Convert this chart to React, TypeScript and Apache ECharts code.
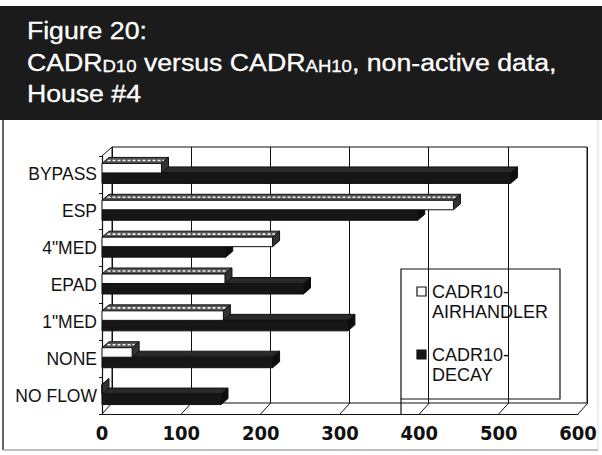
import React, { useEffect, useRef } from "react";
import * as echarts from "echarts";

const categories = ['BYPASS', 'ESP', '4"MED', 'EPAD', '1"MED', 'NONE', 'NO FLOW'];
const airhandlerValues = [75, 443, 215, 155, 153, 38, 0];
const decayValues = [515, 398, 156, 254, 310, 215, 150];
const xTicks = [0, 100, 200, 300, 400, 500, 600];
const seriesNames = ["CADR10-AIRHANDLER", "CADR10-DECAY"];

const FONT = "'Liberation Sans', Arial, Helvetica, sans-serif";
const NARROW = "'Liberation Sans Narrow', 'Arial Narrow', 'DejaVu Sans Condensed', sans-serif";

function barRenderer(topOff: number, botOff: number, frontFill: string, topFill: string, sideFill: string, hatch: boolean) {
  return (params: any, api: any) => {
    const cat = api.value(0);
    const v = api.value(1);
    const p0 = api.coord([0, cat]);
    const p1 = api.coord([v, cat]);
    const x0 = p0[0];
    const x1 = p1[0];
    const y0 = p0[1] + topOff;
    const y1 = p0[1] + botOff;
    const dx = 7;
    const dy = 6;
    const stroke = { stroke: "#111", lineWidth: 1 };
    const children: any[] = [
      {
        type: "polygon",
        shape: { points: [[x0, y0], [x1, y0], [x1 + dx, y0 - dy], [x0 + dx, y0 - dy]] },
        style: { fill: topFill, ...stroke },
      },
    ];
    if (hatch && x1 - x0 > 4) {
      children.push({
        type: "line",
        shape: { x1: x0 + dx / 2 + 2, y1: y0 - dy / 2, x2: x1 + dx / 2 - 1, y2: y0 - dy / 2 },
        style: { stroke: "#f2f2f2", lineWidth: 1.6, lineDash: [3, 2] },
      });
    }
    children.push(
      {
        type: "polygon",
        shape: { points: [[x1, y0], [x1, y1], [x1 + dx, y1 - dy], [x1 + dx, y0 - dy]] },
        style: { fill: sideFill, ...stroke },
      },
      {
        type: "rect",
        shape: { x: x0, y: y0, width: Math.max(0, x1 - x0), height: y1 - y0 },
        style: { fill: frontFill, ...stroke },
      }
    );
    return { type: "group", children };
  };
}

export default function App() {
  const ref = useRef<HTMLDivElement>(null);
  useEffect(() => {
    if (!ref.current) return;
    const chart = echarts.init(ref.current, undefined, { renderer: "svg" });
    const titleStyle = { fill: "#fff", stroke: "#fff", lineWidth: 0.3 };
    const option: any = {
      animation: false,
      backgroundColor: "#fff",
      grid: [
        { left: 112, right: 15, top: 147, bottom: 52, show: true, borderColor: "#111", borderWidth: 1, backgroundColor: "transparent" },
        { left: 102, right: 24, top: 156, bottom: 41 },
      ],
      xAxis: [
        {
          gridIndex: 0, type: "value", min: 0, max: 600, interval: 100,
          axisLine: { show: false }, axisTick: { show: false }, axisLabel: { show: false },
          splitLine: { show: true, lineStyle: { color: "#111", width: 1 } },
        },
        {
          gridIndex: 1, type: "value", min: 0, max: 600, interval: 100,
          axisLine: { show: true, onZero: false, lineStyle: { color: "#111", width: 1 } },
          axisTick: { show: false },
          splitLine: { show: false },
          axisLabel: { show: true, margin: 9, fontFamily: NARROW, fontWeight: "bold", fontSize: 20, color: "#111" },
        },
      ],
      yAxis: [
        { gridIndex: 0, type: "category", data: categories, inverse: true, show: false },
        {
          gridIndex: 1, type: "category", data: categories, inverse: true,
          axisLine: { show: true, lineStyle: { color: "#111", width: 1.2 } },
          axisTick: { show: true, length: 3, lineStyle: { color: "#111" } },
          axisLabel: { margin: 5, fontFamily: FONT, fontSize: 17.5, color: "#111" },
          splitLine: { show: false },
        },
      ],
      series: [
        {
          type: "custom",
          name: "floor",
          xAxisIndex: 1, yAxisIndex: 1,
          z: 1,
          silent: true,
          data: xTicks.map((t) => [t, categories.length - 1]),
          encode: { x: 0, y: 1 },
          renderItem: (params: any, api: any) => {
            const p = api.coord([api.value(0), api.value(1)]);
            const band = api.size([0, 1])[1];
            const y = p[1] + band / 2;
            return {
              type: "line",
              shape: { x1: p[0], y1: y, x2: p[0] + 10, y2: y - 11 },
              style: { stroke: "#111", lineWidth: 1 },
            };
          },
        },
        {
          type: "custom",
          name: seriesNames[1],
          xAxisIndex: 1, yAxisIndex: 1,
          z: 2,
          data: decayValues.map((v, i) => [i, v]),
          encode: { x: 1, y: 0 },
          renderItem: barRenderer(-1.5, 9, "#161616", "#2a2a2a", "#0d0d0d", false),
        },
        {
          type: "custom",
          name: seriesNames[0],
          xAxisIndex: 1, yAxisIndex: 1,
          z: 3,
          data: airhandlerValues.map((v, i) => [i, v]),
          encode: { x: 1, y: 0 },
          renderItem: barRenderer(-11, -1.5, "#ffffff", "#555555", "#333333", true),
        },
      ],
      graphic: [
        { type: "rect", z: 0, shape: { x: 0, y: 6, width: 602, height: 114 }, style: { fill: "#1b1b1b" } },
        { type: "line", shape: { x1: 3, y1: 120, x2: 3, y2: 450 }, style: { stroke: "#333", lineWidth: 1.5 } },
        { type: "line", shape: { x1: 3, y1: 450, x2: 598, y2: 450 }, style: { stroke: "#aaa", lineWidth: 1.5 } },
        { type: "line", shape: { x1: 598, y1: 120, x2: 598, y2: 450 }, style: { stroke: "#ddd", lineWidth: 1 } },
        {
          type: "text", x: 32, y: 30.5, scaleX: 1.16, originX: 32,
          style: { text: "Figure 20:", font: `23px ${FONT}`, verticalAlign: "middle", ...titleStyle },
        },
        {
          type: "text", x: 32, y: 61, scaleX: 1.16, originX: 32,
          style: {
            text: "{n|CADR}{s|D10}{n| versus CADR}{s|AH10}{n|, non-active data,}",
            verticalAlign: "middle",
            ...titleStyle,
            rich: {
              n: { fontFamily: FONT, fontSize: 23, lineHeight: 26, fill: "#fff", verticalAlign: "bottom" },
              s: { fontFamily: FONT, fontSize: 16, lineHeight: 14, fill: "#fff", verticalAlign: "bottom" },
            },
          },
        },
        {
          type: "text", x: 32, y: 93.5, scaleX: 1.16, originX: 32,
          style: { text: "House #4", font: `23px ${FONT}`, verticalAlign: "middle", ...titleStyle },
        },
        { type: "line", z: 5, shape: { x1: 102, y1: 156, x2: 112, y2: 147 }, style: { stroke: "#111", lineWidth: 1 } },
        {
          type: "group", z: 10,
          children: [
            { type: "rect", shape: { x: 401, y: 269, width: 159, height: 130 }, style: { fill: "#fff", stroke: "#111", lineWidth: 1.2 } },
            { type: "line", shape: { x1: 401, y1: 399, x2: 401, y2: 414 }, style: { stroke: "#111", lineWidth: 1.2 } },
            { type: "rect", shape: { x: 417, y: 287, width: 9, height: 9 }, style: { fill: "#fff", stroke: "#111", lineWidth: 1.2 } },
            { type: "text", x: 432, y: 292, style: { text: "CADR10-", font: `18px ${FONT}`, fill: "#111", verticalAlign: "middle" } },
            { type: "text", x: 432, y: 312, style: { text: "AIRHANDLER", font: `18px ${FONT}`, fill: "#111", verticalAlign: "middle" } },
            { type: "rect", shape: { x: 417, y: 350, width: 9, height: 9 }, style: { fill: "#161616", stroke: "#111", lineWidth: 1.2 } },
            { type: "text", x: 432, y: 355, style: { text: "CADR10-", font: `18px ${FONT}`, fill: "#111", verticalAlign: "middle" } },
            { type: "text", x: 432, y: 375, style: { text: "DECAY", font: `18px ${FONT}`, fill: "#111", verticalAlign: "middle" } },
          ],
        },
      ],
    };
    chart.setOption(option);
    return () => chart.dispose();
  }, []);
  return <div ref={ref} style={{ position: "absolute", left: 0, top: 0, width: 602, height: 455 }} />;
}
